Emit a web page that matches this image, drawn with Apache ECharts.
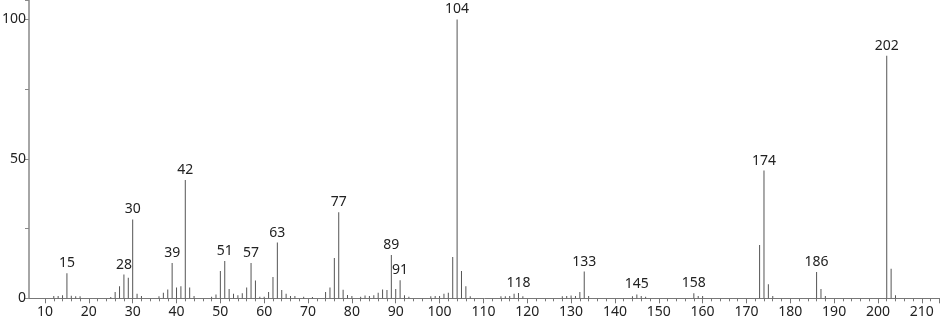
<!DOCTYPE html>
<html>
<head>
<meta charset="utf-8">
<script src="https://cdn.jsdelivr.net/npm/echarts@6/dist/echarts.min.js"></script>
<style>
html,body{margin:0;padding:0;background:#fff;}
#chart{width:940px;height:320px;}
</style>
</head>
<body>
<div id="chart"></div>
<script>
// m/z values
var masses = [12,13,14,15,16,17,18,25,26,27,28,29,30,31,32,36,37,38,39,40,41,42,43,44,48,49,50,51,52,53,54,55,56,57,58,59,60,61,62,63,64,65,66,67,69,71,74,75,76,77,78,79,80,82,83,84,85,86,87,88,89,90,91,92,93,98,99,100,101,102,103,104,105,106,107,114,115,116,117,118,119,128,129,130,131,132,133,134,144,145,146,147,158,159,160,173,174,175,176,186,187,188,202,203,204];
// relative intensities
var intensities = [0.8,0.8,1.1,9.0,0.9,0.7,0.7,0.5,2.3,4.3,8.5,7.4,28.3,1.6,0.8,0.7,2.0,3.2,12.7,3.9,4.3,42.4,3.9,0.8,0.6,1.4,9.8,13.4,3.3,1.6,1.1,1.8,3.9,12.7,6.4,0.6,0.6,2.3,7.6,20.0,3.0,1.6,0.8,0.8,0.6,0.5,2.3,3.9,14.5,30.9,3.1,1.2,0.8,0.6,1.0,0.8,1.1,2.0,3.2,3.0,15.5,3.3,6.5,1.1,0.6,0.7,0.8,0.8,1.6,2.0,14.8,100,9.8,4.3,0.7,0.7,0.7,0.8,1.6,1.9,0.7,0.7,0.8,1.0,0.8,2.3,9.6,0.8,0.7,1.4,0.8,0.6,1.8,0.8,0.8,19.1,45.8,5.0,0.8,9.4,3.3,0.8,87.0,10.6,1.1];
// peaks that carry a label
var labeledPeaks = [15,28,30,39,42,51,57,63,77,89,91,104,118,133,145,158,174,186,202];
// y tick labels shown
var yTickLabels = [0,50,100];

var FONT = 'Noto Sans';
var data = masses.map(function(m, i){ return [m, intensities[i]]; });

var chart = echarts.init(document.getElementById('chart'), null, {renderer:'canvas'});
chart.setOption({
  animation: false,
  backgroundColor: '#fff',
  grid: [
    {left: 45, right: 0.66, top: 0, bottom: 21.7, containLabel: false, outerBoundsMode: 'none'},
    {left: 29, right: 0, top: 0, bottom: 21.7, containLabel: false, outerBoundsMode: 'none'}
  ],
  xAxis: [
    {
      type: 'value', gridIndex: 0, min: 10, max: 214, interval: 10,
      axisLine: {show: false},
      axisTick: {show: true, length: 5, inside: false, lineStyle: {color: '#777', width: 1}},
      minorTick: {show: true, splitNumber: 5, length: 3, lineStyle: {color: '#777', width: 1}},
      splitLine: {show: false},
      axisLabel: {
        color: '#222', fontFamily: FONT, fontSize: 14, margin: 7,
        formatter: function(v){ return v % 10 === 0 ? String(v) : ''; }
      }
    },
    {
      type: 'value', gridIndex: 1, min: 0, max: 1,
      axisLine: {show: true, lineStyle: {color: '#777', width: 1}},
      axisTick: {show: false}, axisLabel: {show: false}, splitLine: {show: false}
    }
  ],
  yAxis: [
    {type: 'value', gridIndex: 0, min: 0, max: 107, show: false},
    {
      type: 'value', gridIndex: 1, min: 0, max: 107, interval: 25,
      axisLine: {show: true, lineStyle: {color: '#888', width: 1.5}},
      axisTick: {show: true, length: 4, lineStyle: {color: '#888'}},
      splitLine: {show: false},
      axisLabel: {
        color: '#222', fontFamily: FONT, fontSize: 14, margin: 3,
        formatter: function(v){ return yTickLabels.indexOf(v) >= 0 ? String(v) : ''; }
      }
    }
  ],
  series: [{
    type: 'bar', xAxisIndex: 0, yAxisIndex: 0,
    data: data,
    barWidth: 1,
    itemStyle: {color: '#555'},
    label: {
      show: true, position: 'top', distance: 3,
      color: '#222', fontFamily: FONT, fontSize: 14,
      formatter: function(p){ return labeledPeaks.indexOf(p.data[0]) >= 0 ? String(p.data[0]) : ''; }
    }
  }]
});
</script>
</body>
</html>
